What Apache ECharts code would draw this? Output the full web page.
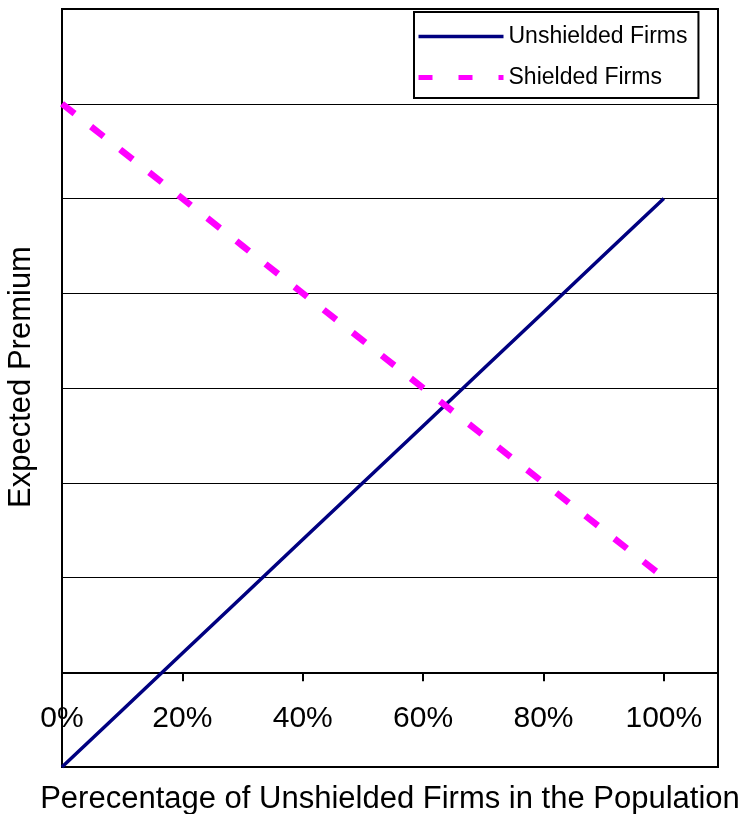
<!DOCTYPE html>
<html><head><meta charset="utf-8">
<script src="https://cdn.jsdelivr.net/npm/echarts@6/dist/echarts.min.js"></script>
<style>html,body{margin:0;padding:0;background:#fff}#c{width:742px;height:814px}</style>
</head><body><div id="c"></div>
<script>
// Share of unshielded firms in the population (x)
const xValues = [0, 0.1, 0.2, 0.3, 0.4, 0.5, 0.6, 0.7, 0.8, 0.9, 1.0];
// Expected premium, unshielded firms
const unshielded = [-1, -0.4, 0.2, 0.8, 1.4, 2.0, 2.6, 3.2, 3.8, 4.4, 5.0];
// Expected premium, shielded firms
const shielded = [6, 5.5, 5.0, 4.5, 4.0, 3.5, 3.0, 2.5, 2.0, 1.5, 1.0];
const seriesNames = ['Unshielded Firms', 'Shielded Firms'];
const xTitle = 'Perecentage of Unshielded Firms in the Population';
const yTitle = 'Expected Premium';

const FONT = '"Liberation Sans", Arial, sans-serif';
const pair = (xs, ys) => xs.map((x, i) => [x, ys[i]]);
const Y_MIN = -1, Y_MAX = 7;
const GRID_TOP = 9, GRID_BOTTOM = 47, H = 814;
// the x axis sits at y = 0: move it up from the grid bottom by that many pixels
const zeroOffset = -((H - GRID_TOP - GRID_BOTTOM) * (0 - Y_MIN) / (Y_MAX - Y_MIN));

const chart = echarts.init(document.getElementById('c'), null, {renderer: 'canvas'});
chart.setOption({
  backgroundColor: '#fff',
  animation: false,
  grid: {left: 62, top: GRID_TOP, right: 24, bottom: GRID_BOTTOM, show: true, borderColor: '#000', borderWidth: 2,
         backgroundColor: 'transparent', containLabel: false, outerBoundsMode: 'none'},
  legend: {
    show: true,
    orient: 'vertical', left: 414, top: 12,
    backgroundColor: '#fff', borderColor: '#000', borderWidth: 2,
    padding: [13, 11, 9, 2],
    itemWidth: 85, itemHeight: 14, itemGap: 18,
    textStyle: {fontFamily: FONT, fontSize: 23, color: '#000'},
    itemStyle: {color: 'transparent', borderWidth: 0, opacity: 0},
    data: [
      {name: seriesNames[0], lineStyle: {width: 3.5, color: '#000080', type: 'solid'}},
      {name: seriesNames[1], lineStyle: {width: 5, color: '#FF00FF', type: [14, 26], cap: 'butt'}}
    ]
  },
  xAxis: {
    type: 'value', min: 0, max: 1.09, interval: 0.2,
    position: 'bottom', offset: zeroOffset,
    name: xTitle, nameLocation: 'middle', nameGap: 112,
    nameTextStyle: {fontFamily: FONT, fontSize: 31, color: '#000'},
    axisLine: {onZero: false, lineStyle: {color: '#000', width: 2}},
    axisTick: {show: true, length: 9, lineStyle: {color: '#000', width: 2}},
    axisLabel: {
      fontFamily: FONT, fontSize: 30, color: '#000', margin: 31,
      showMaxLabel: false,
      formatter: v => v > 1.001 ? '' : Math.round(v * 100) + '%'
    },
    splitLine: {show: false}
  },
  yAxis: {
    type: 'value', min: Y_MIN, max: Y_MAX, interval: 1,
    name: yTitle, nameLocation: 'middle', nameGap: 25,
    nameTextStyle: {fontFamily: FONT, fontSize: 31, color: '#000', padding: [0, 0, 0, 22]},
    axisLine: {show: false},
    axisTick: {show: false},
    axisLabel: {show: false},
    splitLine: {show: true, lineStyle: {color: '#000', width: 1}}
  },
  series: [
    {
      name: seriesNames[0], type: 'line', data: pair(xValues, unshielded),
      symbol: 'none', lineStyle: {color: '#000080', width: 3.5}, itemStyle: {color: '#000080'}
    },
    {
      name: seriesNames[1], type: 'line', data: pair(xValues, shielded),
      symbol: 'none', lineStyle: {color: '#FF00FF', width: 6.5, type: [16, 21], cap: 'butt'}, itemStyle: {color: '#FF00FF'}
    }
  ]
});
</script></body></html>
